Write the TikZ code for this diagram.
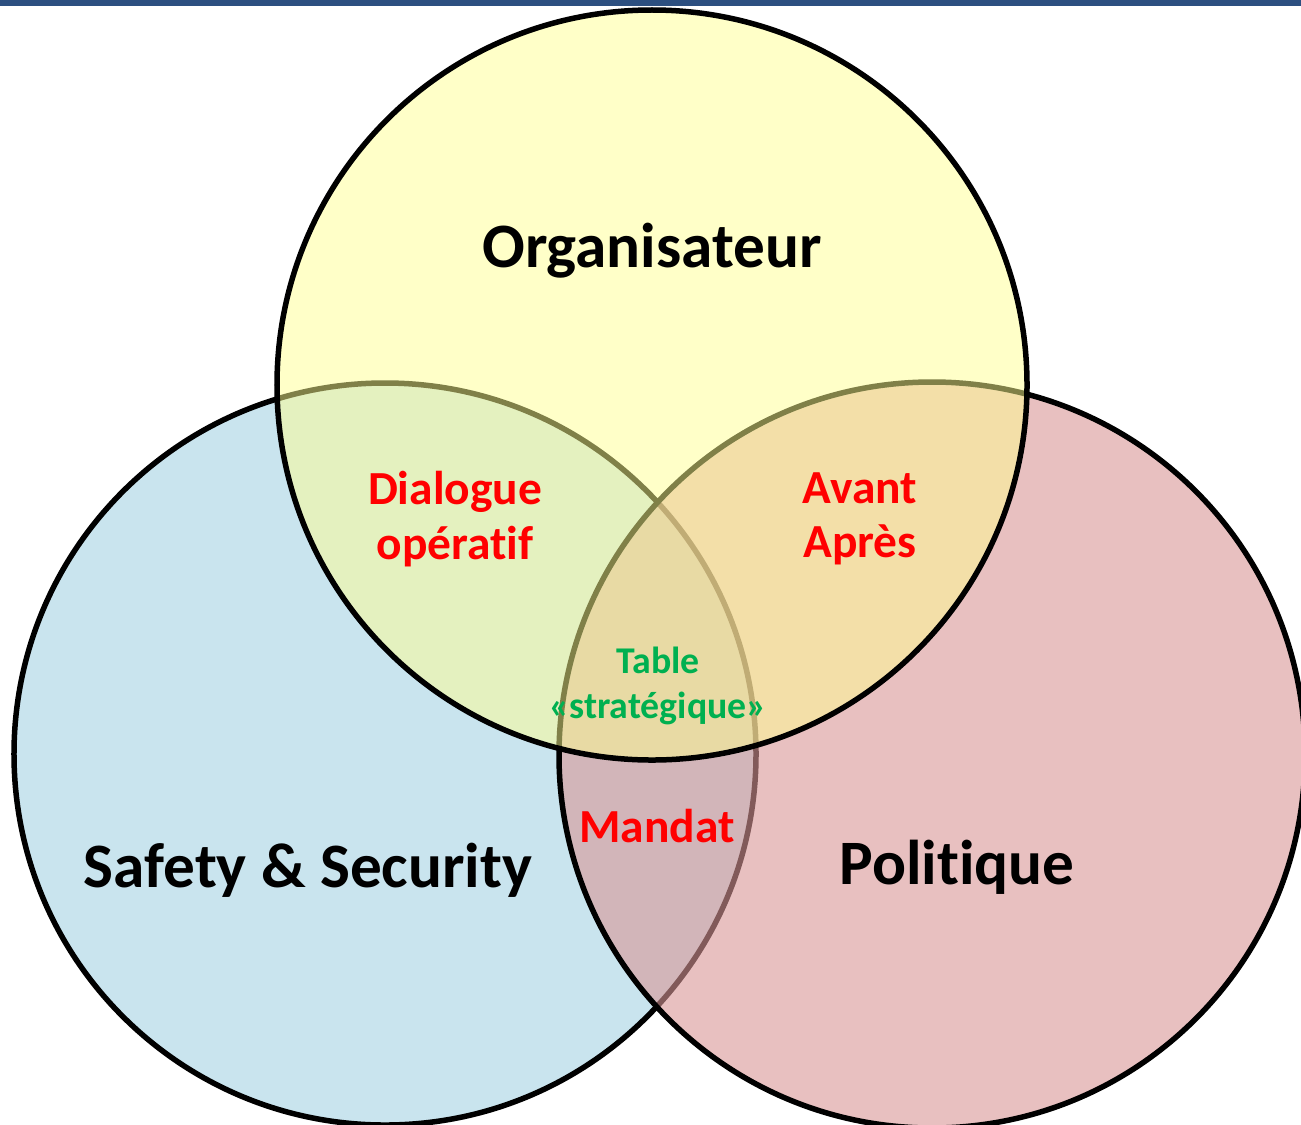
\documentclass[tikz,border=0pt]{standalone}
\usepackage{fontspec}
\setmainfont{Carlito}[Ligatures=NoCommon]
\usepackage{xcolor}
\usepackage{tikz}

\definecolor{topbar}{RGB}{44,79,128}
\definecolor{safetyblue}{RGB}{201,228,238}
\definecolor{politiquered}{RGB}{217,150,150}
\definecolor{orgyellow}{RGB}{255,255,145}
\definecolor{tablegreen}{RGB}{0,176,80}

\begin{document}
\begin{tikzpicture}[x=0.2mm,y=-0.2mm,
    venn/.style={circle, draw, line width=1.1mm, inner sep=0pt},
    biglabel/.style={inner sep=0pt, align=center,
        font=\bfseries\fontsize{36}{43}\selectfont},
    overlap/.style={inner sep=0pt, align=center, text=red,
        font=\bfseries\fontsize{27}{31}\selectfont},
    core/.style={inner sep=0pt, align=center, text=tablegreen,
        font=\bfseries\fontsize{21.5}{25.5}\selectfont}]

    \useasboundingbox (0,0) rectangle (1301,1124);

    % -- Bar along the top edge --
    \fill[topbar] (0,0) rectangle (1301,6);

    % -- The three circles --
    % Safety & Security on the left
    \node[venn, fill=safetyblue, minimum size=148.4mm] (safety) at (385,754) {};

    % Politique on the right
    \node[venn, fill=politiquered, fill opacity=0.6,
          minimum size=149.2mm] (politique) at (932,755) {};

    % Organisateur on top
    \node[venn, fill=orgyellow, fill opacity=0.5,
          minimum size=150mm] (orga) at (652,385) {};

    % -- Names of the circles --
    \node[biglabel] (orgalabel) at (652,251) {Organisateur};
    \node[biglabel] (safetylabel) at (308,870) {Safety \& Security};
    \node[biglabel] (politiquelabel) at (957,867) {Politique};

    % -- Overlaps --
    \node[overlap] (dialogue) at (455,519) {Dialogue\\opératif};
    \node[overlap] (avant) at (860,519) {Avant\\Après};
    \node[overlap] (mandat) at (657,826) {Mandat};

    % Centre of all three
    \node[core] (table) at (658,686) {Table\\«stratégique»};

\end{tikzpicture}
\end{document}
